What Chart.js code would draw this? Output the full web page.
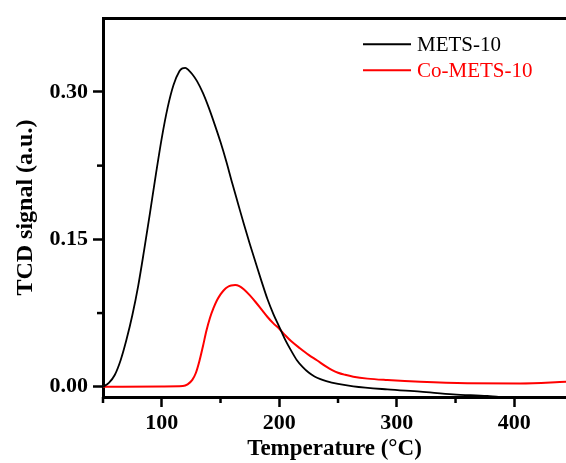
<!DOCTYPE html>
<html>
<head>
<meta charset="utf-8">
<script src="https://cdn.jsdelivr.net/npm/chart.js@4.4.1/dist/chart.umd.min.js"></script>
<style>
    html, body { margin: 0; padding: 0; background: #fff; }
    #wrap { width: 566px; height: 463px; }
</style>
</head>
<body>
<div id="wrap"><canvas id="tpdChart"></canvas></div>
<script>
// temperature (°C) and TCD signal
const metsTemp = [50, 55, 60, 65, 70, 75, 80, 85, 90, 95, 100, 105, 110, 115, 117.5, 120, 123, 126, 130, 135, 140, 145, 150, 155, 160, 165, 170, 175, 180, 185, 190, 195, 200, 205, 210, 215, 220, 225, 230, 235, 240, 250, 263, 292, 320, 348, 377, 400, 445];
const metsSignal = [0, 0.004, 0.012, 0.027, 0.048, 0.073, 0.103, 0.139, 0.177, 0.216, 0.253, 0.284, 0.307, 0.321, 0.324, 0.3245, 0.322, 0.318, 0.311, 0.299, 0.284, 0.267, 0.249, 0.229, 0.207, 0.186, 0.165, 0.145, 0.126, 0.107, 0.089, 0.074, 0.061, 0.048, 0.037, 0.027, 0.020, 0.0145, 0.0105, 0.0078, 0.0058, 0.003, 0.0005, -0.0027, -0.005, -0.0077, -0.0094, -0.0115, -0.014];

const coTemp = [50, 100, 118, 122, 126, 129, 132, 135, 138, 141, 144, 147, 150, 153, 156, 159, 162.5, 166, 170, 175, 180, 185, 190, 195, 200, 205, 210, 217.8, 225, 232, 240, 245, 250, 256, 263, 275, 292, 320, 360, 405, 444];
const coSignal = [0, 0.0004, 0.0008, 0.0025, 0.007, 0.014, 0.026, 0.041, 0.057, 0.070, 0.080, 0.088, 0.094, 0.0985, 0.1015, 0.103, 0.1036, 0.1025, 0.099, 0.093, 0.086, 0.0785, 0.071, 0.0645, 0.059, 0.0525, 0.0465, 0.039, 0.0325, 0.027, 0.0205, 0.017, 0.0143, 0.0122, 0.0103, 0.0083, 0.0068, 0.005, 0.0036, 0.0034, 0.005];

const xTicks = [50, 100, 150, 200, 250, 300, 350, 400];
const yTicks = [0, 0.075, 0.15, 0.225, 0.30];
const seriesNames = ['METS-10', 'Co-METS-10'];
const seriesColors = ['#000000', '#ff0000'];

const serif = "'Liberation Serif', 'Times New Roman', serif";

function toPoints(xs, ys) {
    return xs.map((x, i) => ({ x: x, y: ys[i] }));
}

// minor ticks are shorter than the labelled ones
const minorTicks = {
    id: 'minorTicks',
    afterDraw(chart) {
        const c = chart.ctx;
        const xs = chart.scales.x, ys = chart.scales.y;
        c.save();
        c.strokeStyle = '#000';
        c.lineWidth = 2.5;
        xTicks.filter(v => v % 100 !== 0).forEach(v => {
            const px = xs.getPixelForValue(v);
            c.beginPath();
            c.moveTo(px, xs.top);
            c.lineTo(px, xs.top + 6);
            c.stroke();
        });
        yTicks.filter(v => Math.round(v * 1000) % 150 !== 0).forEach(v => {
            const py = ys.getPixelForValue(v);
            c.beginPath();
            c.moveTo(ys.right, py);
            c.lineTo(ys.right - 6, py);
            c.stroke();
        });
        c.restore();
    }
};

// legend drawn inside the plot, upper right
const innerLegend = {
    id: 'innerLegend',
    afterDraw(chart) {
        const c = chart.ctx;
        const area = chart.chartArea;
        c.save();
        c.font = '21px ' + serif;
        c.textBaseline = 'middle';
        chart.data.datasets.forEach((ds, i) => {
            const y = area.top + 26 + i * 26;
            const x0 = area.right - 203;
            c.strokeStyle = ds.borderColor;
            c.lineWidth = 2;
            c.beginPath();
            c.moveTo(x0, y);
            c.lineTo(x0 + 48, y);
            c.stroke();
            c.fillStyle = ds.borderColor;
            c.fillText(ds.label, x0 + 54, y + 1);
        });
        c.restore();
    }
};

const ctx = document.getElementById('tpdChart').getContext('2d');
const tpdChart = new Chart(ctx, {
    type: 'scatter',
    data: {
        datasets: [
            {
                label: seriesNames[0],
                data: toPoints(metsTemp, metsSignal),
                borderColor: seriesColors[0],
                borderWidth: 1.8,
                showLine: true,
                pointRadius: 0,
                cubicInterpolationMode: 'monotone'
            },
            {
                label: seriesNames[1],
                data: toPoints(coTemp, coSignal),
                borderColor: seriesColors[1],
                borderWidth: 2,
                showLine: true,
                pointRadius: 0,
                cubicInterpolationMode: 'monotone'
            }
        ]
    },
    options: {
        responsive: true,
        maintainAspectRatio: false,
        animation: false,
        layout: { padding: { top: 16, right: 0, left: 0, bottom: 0 } },
        scales: {
            x: {
                type: 'linear',
                min: 50,
                max: 444,
                afterBuildTicks: s => { s.ticks = xTicks.map(v => ({ value: v })); },
                afterFit: s => { s.height = 66; },
                grid: {
                    display: true,
                    drawOnChartArea: false,
                    tickLength: 10,
                    tickWidth: 2.5,
                    tickColor: c => (c.tick && c.tick.value % 100 === 0) ? '#000' : 'rgba(0,0,0,0)'
                },
                border: { display: true, color: '#000', width: 3 },
                ticks: {
                    color: '#000',
                    padding: 3,
                    maxRotation: 0,
                    font: { family: serif, size: 22, weight: 'bold' },
                    callback: v => (v % 100 === 0 ? v : '')
                },
                title: {
                    display: true,
                    text: 'Temperature (\u00B0C)',
                    color: '#000',
                    padding: { top: 0, bottom: 0 },
                    font: { family: serif, size: 23, weight: 'bold' }
                }
            },
            xTop: {
                type: 'linear',
                position: 'top',
                min: 50,
                max: 444,
                afterFit: s => { s.height = 0; },
                grid: { display: false },
                ticks: { display: false },
                border: { display: true, color: '#000', width: 3 }
            },
            y: {
                min: -0.0104,
                max: 0.375,
                afterBuildTicks: s => { s.ticks = yTicks.map(v => ({ value: v })); },
                afterFit: s => { s.width = 103; },
                grid: {
                    display: true,
                    drawOnChartArea: false,
                    tickLength: 10,
                    tickWidth: 2.5,
                    tickColor: c => (c.tick && Math.round(c.tick.value * 1000) % 150 === 0) ? '#000' : 'rgba(0,0,0,0)'
                },
                border: { display: true, color: '#000', width: 3 },
                ticks: {
                    color: '#000',
                    padding: 5,
                    font: { family: serif, size: 22, weight: 'bold' },
                    callback: v => (Math.round(v * 1000) % 150 === 0 ? v.toFixed(2) : '')
                },
                title: {
                    display: true,
                    text: 'TCD signal (a.u.)',
                    color: '#000',
                    padding: { top: 11, bottom: 0 },
                    font: { family: serif, size: 24, weight: 'bold' }
                }
            }
        },
        plugins: {
            legend: { display: false },
            tooltip: { enabled: false }
        }
    },
    plugins: [minorTicks, innerLegend]
});
</script>
</body>
</html>
